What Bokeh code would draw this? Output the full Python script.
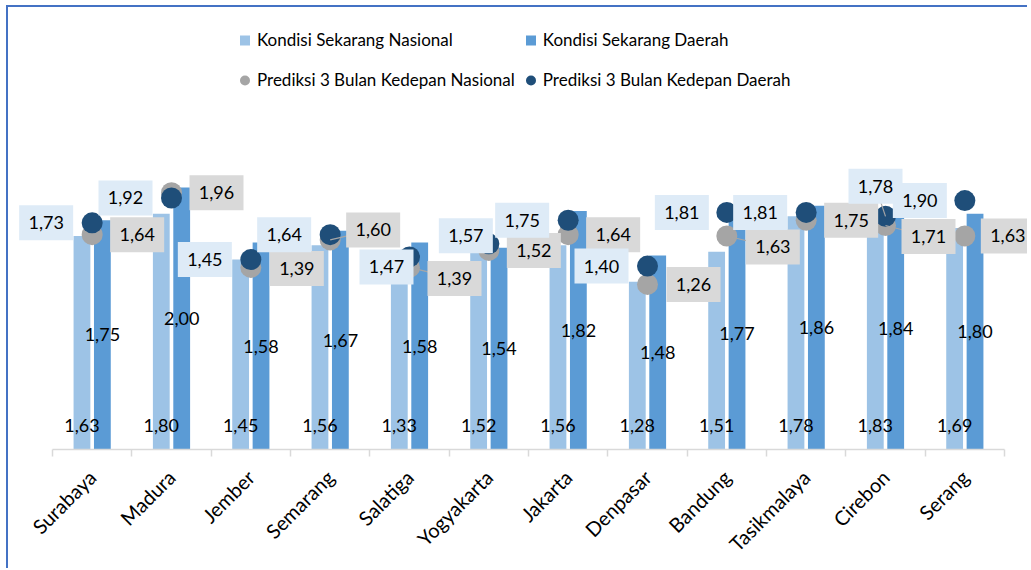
import math
from bokeh.plotting import figure
from bokeh.models import ColumnDataSource, Range1d, FixedTicker, Legend, LegendItem
from bokeh.core.properties import value
from bokeh.embed import file_html
from bokeh.resources import INLINE

# ---------------- data ----------------
cities = ["Surabaya", "Madura", "Jember", "Semarang", "Salatiga", "Yogyakarta",
          "Jakarta", "Denpasar", "Bandung", "Tasikmalaya", "Cirebon", "Serang"]
kondisi_nasional = [1.63, 1.80, 1.45, 1.56, 1.33, 1.52, 1.56, 1.28, 1.51, 1.78, 1.83, 1.69]
kondisi_daerah = [1.75, 2.00, 1.58, 1.67, 1.58, 1.54, 1.82, 1.48, 1.77, 1.86, 1.84, 1.80]
prediksi_nasional = [1.64, 1.96, 1.39, 1.60, 1.39, 1.52, 1.64, 1.26, 1.63, 1.75, 1.71, 1.63]
prediksi_daerah = [1.73, 1.92, 1.45, 1.64, 1.47, 1.57, 1.75, 1.40, 1.81, 1.81, 1.78, 1.90]

# label placement (pixels; dy positive = up)
daerah_dx = [-46, -46, -46, -46, -23, -23, -46, -46, -45, -46, -10, -45]
daerah_dy = [0, 0, 0, 0, -10, 8, 0, 0, 0, 0, 30, 0]
daerah_leader = [0, 0, 0, 0, 0, 0, 0, 0, 0, 0, 1, 0]
nasional_dx = [45, 45, 46, 43, 45, 45, 45, 46, 46, 45, 43, 43]
nasional_dy = [0, 0, -1, 10, -11, 0, 0, 0, -11, 0, -11, 0]
nasional_leader = [0, 0, 0, 1, 1, 0, 0, 0, 1, 0, 1, 0]

# ---------------- geometry ----------------
W, H = 1021, 563
AXIS_LEFT = 44          # pixels from canvas left to the first category boundary
FRAME_H = 442
BOTTOM = H - FRAME_H
PX_X = 952 / 12.0
PX_Y = 131.0

C_LIGHT = "#9DC3E6"
C_DARK = "#5B9BD5"
C_GRAY = "#A5A5A5"
C_NAVY = "#1F4E79"
BOX_BLUE = "#DEEBF7"
BOX_GRAY = "#D9D9D9"
FONT = "Lato"

def fmt(v):
    return f"{v:.2f}".replace(".", ",")

n = len(cities)
xc = [i + 0.5 for i in range(n)]
off = 10.2 / PX_X
bw = 16.8 / PX_X

src = ColumnDataSource(dict(
    xc=xc,
    xn=[x - off for x in xc],
    xd=[x + off for x in xc],
    kn=kondisi_nasional, kd=kondisi_daerah,
    kd_half=[v / 2 for v in kondisi_daerah],
    zero=[0] * n,
    pn=prediksi_nasional, pd=prediksi_daerah,
    kn_t=[fmt(v) for v in kondisi_nasional],
    kd_t=[fmt(v) for v in kondisi_daerah],
))

lab_n = ColumnDataSource(dict(
    x=[xc[i] + nasional_dx[i] / PX_X for i in range(n)],
    y=[prediksi_nasional[i] + nasional_dy[i] / PX_Y for i in range(n)],
    t=[fmt(v) for v in prediksi_nasional],
))
lab_d = ColumnDataSource(dict(
    x=[xc[i] + daerah_dx[i] / PX_X for i in range(n)],
    y=[prediksi_daerah[i] + daerah_dy[i] / PX_Y for i in range(n)],
    t=[fmt(v) for v in prediksi_daerah],
))

x0 = -AXIS_LEFT / PX_X
p = figure(width=W, height=H, output_backend="svg", toolbar_location=None,
           x_range=Range1d(x0, x0 + W / PX_X), y_range=Range1d(0, FRAME_H / PX_Y),
           min_border_left=0, min_border_right=0, min_border_top=0,
           min_border_bottom=BOTTOM)
p.outline_line_color = None
p.grid.visible = False
p.yaxis.visible = False
p.background_fill_color = "white"
p.border_fill_color = "white"
p.styles = {"border-left": "2px solid #4472C4", "border-top": "2px solid #4472C4",
            "margin-left": "6px", "margin-top": "5px"}

r_kn = p.vbar(x="xn", top="kn", width=bw, source=src, fill_color=C_LIGHT, line_color=None)
r_kd = p.vbar(x="xd", top="kd", width=bw, source=src, fill_color=C_DARK, line_color=None)

p.text(x="xn", y="zero", text="kn_t", source=src, y_offset=-24,
       text_align="center", text_baseline="middle",
       text_font=value(FONT), text_font_size="18px", text_color="black")
p.text(x="xd", y="kd_half", text="kd_t", source=src,
       text_align="center", text_baseline="middle",
       text_font=value(FONT), text_font_size="18px", text_color="black")

r_pn = p.scatter(x="xc", y="pn", source=src, size=21, fill_color=C_GRAY, line_color=None)
r_pd = p.scatter(x="xc", y="pd", source=src, size=21, fill_color=C_NAVY, line_color=None)

# leader lines (from point to its moved label)
lx0, ly0, lx1, ly1 = [], [], [], []
for i in range(n):
    if nasional_leader[i]:
        lx0.append(xc[i]); ly0.append(prediksi_nasional[i])
        lx1.append(lab_n.data["x"][i]); ly1.append(lab_n.data["y"][i])
    if daerah_leader[i]:
        lx0.append(xc[i]); ly0.append(prediksi_daerah[i])
        lx1.append(lab_d.data["x"][i]); ly1.append(lab_d.data["y"][i])
p.segment(x0=lx0, y0=ly0, x1=lx1, y1=ly1, line_color="#A6A6A6", line_width=1.2)

for s, bg in ((lab_n, BOX_GRAY), (lab_d, BOX_BLUE)):
    p.rect(x="x", y="y", width=54, height=35, width_units="screen", height_units="screen",
           source=s, fill_color=bg, line_color=None)
    p.text(x="x", y="y", text="t", source=s,
           text_align="center", text_baseline="middle",
           text_font=value(FONT), text_font_size="18px", text_color="black")

ax = p.xaxis[0]
ax.ticker = FixedTicker(ticks=xc, minor_ticks=list(range(n + 1)))
ax.bounds = (0, n)
ax.major_label_overrides = {x: c for x, c in zip(xc, cities)}
ax.major_tick_line_color = None
ax.major_tick_in = 0
ax.major_tick_out = 0
ax.minor_tick_in = 0
ax.minor_tick_out = 7
ax.minor_tick_line_color = "#D9D9D9"
ax.minor_tick_line_width = 1.5
ax.axis_line_color = "#D9D9D9"
ax.axis_line_width = 1.5
ax.major_label_orientation = math.pi / 4
ax.major_label_text_font = FONT
ax.major_label_text_font_size = "20px"
ax.major_label_text_color = "black"
ax.major_label_standoff = 17

# legend-only marker renderers (size 0, so only the legend shows them)
lg_kn = p.scatter(x="xc", y="kn", source=src, size=0, marker="square", fill_color=C_LIGHT, line_color=None)
lg_kd = p.scatter(x="xc", y="kd", source=src, size=0, marker="square", fill_color=C_DARK, line_color=None)
lg_pn = p.scatter(x="xc", y="pn", source=src, size=0, marker="circle", fill_color=C_GRAY, line_color=None)
lg_pd = p.scatter(x="xc", y="pd", source=src, size=0, marker="circle", fill_color=C_NAVY, line_color=None)

legend = Legend(items=[
    LegendItem(label="Kondisi Sekarang Nasional", renderers=[lg_kn]),
    LegendItem(label="Prediksi 3 Bulan Kedepan Nasional", renderers=[lg_pn]),
    LegendItem(label="Kondisi Sekarang Daerah", renderers=[lg_kd]),
    LegendItem(label="Prediksi 3 Bulan Kedepan Daerah", renderers=[lg_pd]),
], ncols=2, location=(224, FRAME_H - 91))
legend.label_text_font = FONT
legend.label_text_font_size = "17px"
legend.label_text_color = "black"
legend.glyph_width = 25
legend.glyph_height = 28
legend.label_height = 37
legend.label_standoff = 0
legend.spacing = 3
legend.padding = 0
legend.margin = 0
legend.border_line_color = None
legend.background_fill_alpha = 0
p.add_layout(legend, "center")

open("out.html", "w").write(file_html(p, INLINE))
